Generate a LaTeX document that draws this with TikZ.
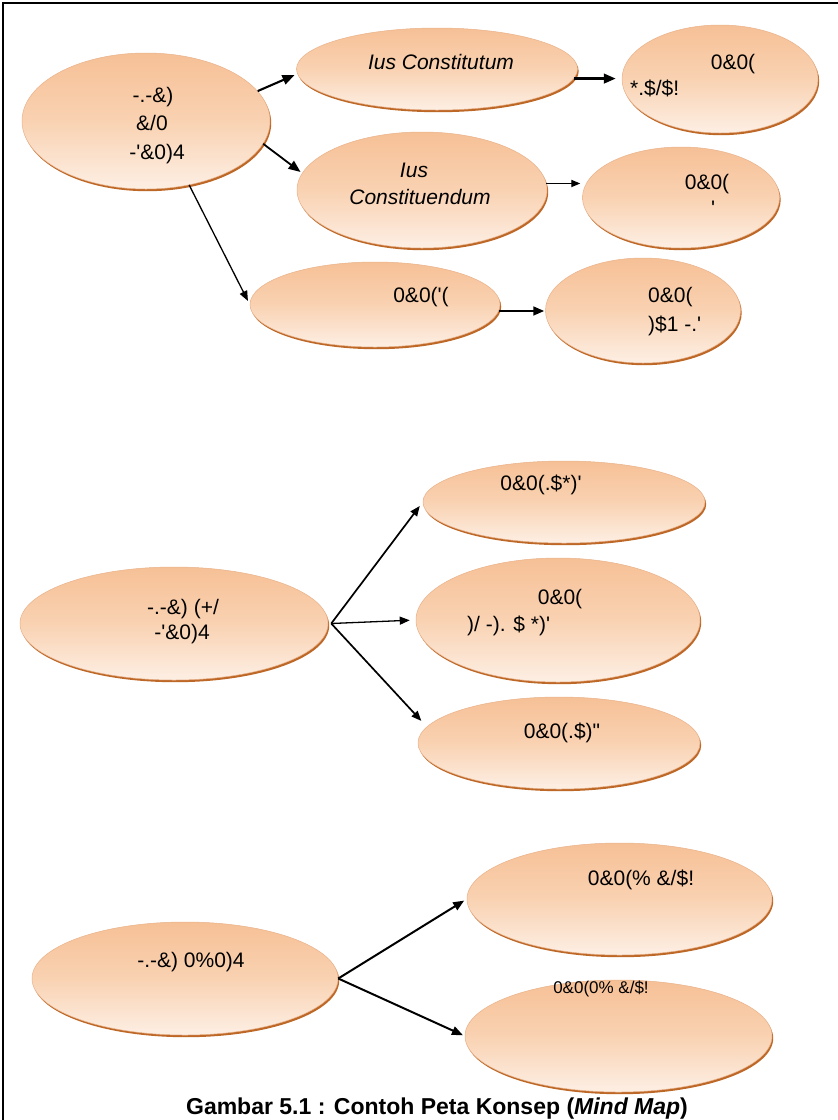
\documentclass[tikz,border=0pt]{standalone}
\usepackage{fontspec}
\newfontfamily\arial{Liberation Sans}
\usetikzlibrary{arrows.meta,shapes.geometric}

\definecolor{peachtop}{RGB}{246,192,150}
\definecolor{peachmid}{RGB}{249,210,178}
\definecolor{peachbot}{RGB}{253,239,228}
\definecolor{rimdark}{RGB}{190,104,40}
\definecolor{rimlight}{RGB}{233,178,138}

\tikzset{
  bubble/.style 2 args={ellipse, minimum width=#1, minimum height=#2, inner sep=0pt,
    draw=rimlight, line width=0.5pt,
    top color=peachtop, bottom color=peachbot, middle color=peachmid,
    preaction={fill=rimdark, transform canvas={xshift=1.2pt,yshift=-2.2pt}}},
  txt/.style={font=\arial\fontsize{21}{25}\selectfont, inner sep=0pt, anchor=base},
  txtl/.style={txt, anchor=base west},
  ittxt/.style={txt, font=\arial\itshape\fontsize{21}{25}\selectfont},
  link/.style={-{Triangle[length=#1,width=0.8*#1]}, line width=1.6pt},
  link/.default=10pt,
}

\begin{document}
\begin{tikzpicture}[x=1pt,y=-1pt]
  \clip (0,0) rectangle (838,1120);
  \fill[white] (0,0) rectangle (838,1120);
  % frame
  \draw[line width=1.5pt] (3,1125) -- (3,3) -- (840,3);

  % ---------- first map ----------
  \node[bubble={248}{136}] (A) at (146,121) {};
  \node[bubble={281}{82}]  (B) at (437,69) {};
  \node[bubble={196}{108}] (C) at (720,79) {};
  \node[bubble={250}{116}] (D) at (422,190) {};
  \node[bubble={197}{101}] (E) at (681,197.5) {};
  \node[bubble={250}{85}]  (F) at (375,304.5) {};
  \node[bubble={195}{105}] (G) at (643,310.5) {};

  \node[txt] (A1) at (153,102.5) {-.-\&)};
  \node[txt] (A2) at (152,130.5) {\&/0};
  \node[txt] (A3) at (157,159.5) {-'\&0)4};
  \node[ittxt] (B1) at (441,69.5) {Ius Constitutum};
  \node[txt]  (C1) at (733,69.5) {0\&0(};
  \node[txtl] (C2) at (630,95.5) {*.\$/\$!};
  \node[ittxt] (D1) at (414,177.5) {Ius};
  \node[ittxt] (D2) at (420,204.5) {Constituendum};
  \node[txt]  (E1) at (707,189.5) {0\&0(};
  \node[txtl] (E2) at (711,215) {'};
  \node[txt]  (F1) at (421,302.5) {0\&0('(};
  \node[txtl] (G1) at (648,302.5) {0\&0(};
  \node[txtl] (G2) at (648,331.5) {)\$1 -.'};

  \draw[link=12pt, line width=2.1pt, shorten >=3pt] (A.15) -- (B.182);
  \draw[link=12pt, line width=1.8pt, shorten >=2pt] (A.-11) -- (D.172);
  \draw[link=10pt, line width=1.3pt, shorten >=4pt] (A.-56) -- (F.west);
  \draw[link=12pt, line width=2.5pt, shorten >=6pt] (B.-4) -- (B.-4 -| C.west);
  \draw[link=9pt, line width=1.2pt, shorten >=2pt] (D.3) -- (D.3 -| E.west);
  \draw[link=11pt, line width=2.2pt, shorten >=1pt] (F.-3) -- (F.-3 -| G.west);

  % ---------- second map ----------
  \node[bubble={308}{113}] (M)  at (174,623.5) {};
  \node[bubble={282}{82}]  (N1) at (564,502) {};
  \node[bubble={284}{124}] (N2) at (558,620) {};
  \node[bubble={282}{92}]  (N3) at (559,743) {};

  \node[txt]  (M1)  at (183,614.5) {-.-\&) (+/};
  \node[txt]  (M2)  at (182,639.5) {-'\&0)4};
  \node[txt]  (N1t) at (541,490.5) {0\&0(.\$*)'};
  \node[txt]  (N2a) at (560,604.5) {0\&0(};
  \node[txtl] (N2b) at (467,631.5) {)/ -). \$ *)'};
  \node[txt]  (N3t) at (562,738.5) {0\&0(.\$)"};

  \coordinate (fork) at ([xshift=3pt]M.east);
  \draw[link=10pt, line width=1.7pt, shorten >=5pt] (fork) -- (N1.west);
  \draw[link=10pt, line width=1.3pt, shorten >=6pt] (fork) -- (N2.west);
  \draw[link=10pt, line width=1.7pt, shorten >=8pt] (fork) -- (N3.173);

  % ---------- third map ----------
  \node[bubble={306}{113}] (Q)  at (185,978.5) {};
  \node[bubble={305}{112}] (P1) at (619.5,899) {};
  \node[bubble={307}{112}] (P2) at (618.5,1036) {};

  \node[txt] (Qt)  at (191,967.5) {-.-\&) 0\%0)4};
  \node[txt] (P1t) at (641,885.5) {0\&0(\% \&/\$!};
  \node[txt, font=\arial\fontsize{17}{20}\selectfont] (P2t) at (601,993) {0\&0(0\% \&/\$!};

  \draw[link=11pt, line width=2pt, shorten >=3pt] (Q.east) -- (P1.west);
  \draw[link=11pt, line width=2pt, shorten >=2pt] (Q.east) -- (P2.west);

  % caption
  \node[txt, font=\arial\bfseries\fontsize{23}{28}\selectfont] (cap) at (437,1114)
    {Gambar 5.1 : Contoh Peta Konsep (\textit{Mind Map})};
\end{tikzpicture}
\end{document}
